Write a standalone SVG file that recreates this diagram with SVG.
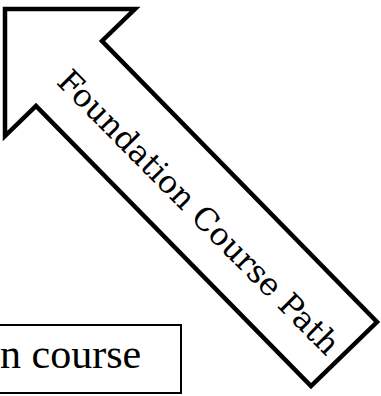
<svg xmlns="http://www.w3.org/2000/svg" width="381" height="396" viewBox="0 0 381 396">
  <style>
    .outline { fill: #ffffff; stroke: #000000; stroke-linejoin: miter; stroke-miterlimit: 10; }
    .serif { font-family: "DejaVu Serif", "Liberation Serif", serif; fill: #000000; }
    .boxtext { font-family: "Liberation Serif", "DejaVu Serif", serif; fill: #000000; }
  </style>
  <rect width="381" height="396" fill="#ffffff"/>
  <g id="arrow">
    <polygon class="outline" stroke-width="4.5" points="5,9 135,9 102,41 377,322 311,386 36,106 5,136"/>
    <text class="serif" font-size="31.5" text-anchor="middle" transform="translate(191,220) rotate(45.3)">Foundation Course Path</text>
  </g>
  <g id="box">
    <rect class="outline" stroke-width="2" x="-10" y="325" width="191" height="68"/>
    <text class="boxtext" font-size="42" x="0" y="368">n course</text>
  </g>
</svg>
